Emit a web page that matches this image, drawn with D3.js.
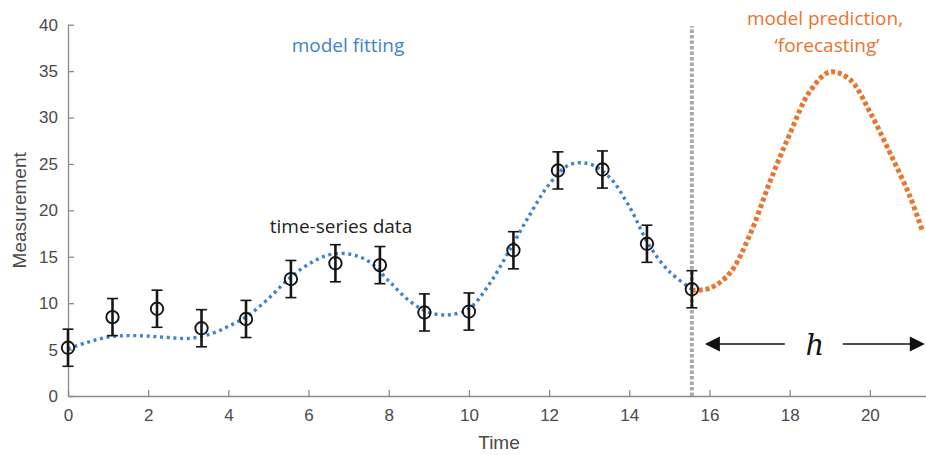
<!DOCTYPE html>
<html>
<head>
<meta charset="utf-8">
<script src="https://cdn.jsdelivr.net/npm/d3@7"></script>
<style>
  html, body { margin: 0; padding: 0; background: #fff; }
  svg { display: block; }
</style>
</head>
<body>
<svg id="chart" width="926" height="455"></svg>
<script>
// ---- data ----
const dataTime  = [0, 1.11, 2.22, 3.33, 4.44, 5.56, 6.67, 7.78, 8.89, 10.0, 11.11, 12.22, 13.33, 14.44, 15.56];
const dataValue = [5.2, 8.5, 9.4, 7.3, 8.3, 12.6, 14.3, 14.1, 9.0, 9.1, 15.7, 24.3, 24.4, 16.4, 11.5];
const dataError = [2, 2, 2, 2, 2, 2, 2, 2, 2, 2, 2, 2, 2, 2, 2];

const fitTime  = [0, 0.5, 1.0, 1.5, 2.0, 2.5, 3.0, 3.5, 4.0, 4.5, 5.0, 5.5, 6.0, 6.5, 7.0, 7.5, 8.0, 8.5, 9.0, 9.5, 10.0, 10.5, 11.0, 11.5, 12.0, 12.5, 13.0, 13.5, 14.0, 14.5, 15.0, 15.56];
const fitValue = [5.1, 5.8, 6.35, 6.5, 6.45, 6.3, 6.2, 6.6, 7.5, 8.7, 10.5, 12.6, 14.2, 15.2, 15.3, 14.5, 12.4, 10.3, 9.0, 8.75, 9.4, 12.0, 15.6, 19.4, 22.8, 24.9, 25.0, 23.6, 20.4, 16.2, 13.4, 11.5];

const forecastTime  = [15.56, 16.0, 16.5, 17.0, 17.5, 18.0, 18.5, 19.0, 19.5, 20.0, 20.5, 21.0, 21.3];
const forecastValue = [11.4, 11.6, 13.2, 17.3, 23.0, 28.2, 32.8, 34.9, 34.1, 30.6, 26.2, 21.5, 17.9];

const xTicks = [0, 2, 4, 6, 8, 10, 12, 14, 16, 18, 20];
const yTicks = [0, 5, 10, 15, 20, 25, 30, 35, 40];
const forecastStart = 15.56;
const horizonEnd = 21.37;
const arrowLevel = 5.6;

// ---- layout ----
const svg = d3.select("#chart");
const W = 926, H = 455;
const m = { left: 68, top: 24.7, right: 0, bottom: 59 };
const x = d3.scaleLinear().domain([0, 21.4]).range([m.left, W - m.right]);
const y = d3.scaleLinear().domain([0, 40]).range([H - m.bottom, m.top]);

const axisColor = "#8a8a8a";
const tickTextColor = "#4a4a4a";

// axes
const gx = svg.append("g").attr("transform", `translate(0,${y(0)})`)
  .call(d3.axisBottom(x).tickValues(xTicks).tickSizeInner(-6).tickSizeOuter(0).tickPadding(13).tickFormat(d3.format("d")));
const gy = svg.append("g").attr("transform", `translate(${x(0)},0)`)
  .call(d3.axisLeft(y).tickValues(yTicks).tickSizeInner(-6).tickSizeOuter(0).tickPadding(10).tickFormat(d3.format("d")));
[gx, gy].forEach(g => {
  g.select(".domain").attr("stroke", axisColor).attr("stroke-width", 1.3);
  g.selectAll(".tick line").attr("stroke", axisColor).attr("stroke-width", 1.3);
  g.selectAll(".tick text").attr("fill", tickTextColor)
    .style("font-family", "'Liberation Sans', Arial, sans-serif").style("font-size", "17px");
});

// axis labels
svg.append("text").attr("x", 499).attr("y", 449).attr("text-anchor", "middle")
  .attr("fill", tickTextColor).style("font-family", "'Liberation Sans', Arial, sans-serif").style("font-size", "19px")
  .text("Time");
svg.append("text").attr("transform", `translate(26,${(y(0) + y(40)) / 2}) rotate(-90)`).attr("text-anchor", "middle")
  .attr("fill", tickTextColor).style("font-family", "'Liberation Sans', Arial, sans-serif").style("font-size", "19px")
  .text("Measurement");

// vertical separator
svg.append("line").attr("x1", x(forecastStart)).attr("x2", x(forecastStart))
  .attr("y1", y(0)).attr("y2", 26)
  .attr("stroke", "#a9a9a9").attr("stroke-width", 4).attr("stroke-dasharray", "3.5 2");

// fit curve
const line = d3.line().x(d => x(d[0])).y(d => y(d[1])).curve(d3.curveCatmullRom.alpha(0.5));
svg.append("path").datum(fitTime.map((t, i) => [t, fitValue[i]]))
  .attr("d", line).attr("fill", "none").attr("stroke", "#3b82cf")
  .attr("stroke-width", 3.4).attr("stroke-dasharray", "3 3.7");

// forecast curve
svg.append("path").datum(forecastTime.map((t, i) => [t, forecastValue[i]]))
  .attr("d", line).attr("fill", "none").attr("stroke", "#ec7329")
  .attr("stroke-width", 5).attr("stroke-dasharray", "4 2.8");

// data with error bars
const pts = svg.append("g");
dataTime.forEach((t, i) => {
  const cx = x(t), v = dataValue[i], e = dataError[i];
  const g = pts.append("g").attr("stroke", "#161616").attr("fill", "none");
  g.append("line").attr("x1", cx).attr("x2", cx).attr("y1", y(v - e)).attr("y2", y(v + e)).attr("stroke-width", 2.6);
  g.append("line").attr("x1", cx - 5.5).attr("x2", cx + 5.5).attr("y1", y(v - e)).attr("y2", y(v - e)).attr("stroke-width", 1.6);
  g.append("line").attr("x1", cx - 5.5).attr("x2", cx + 5.5).attr("y1", y(v + e)).attr("y2", y(v + e)).attr("stroke-width", 1.6);
  g.append("circle").attr("cx", cx).attr("cy", y(v)).attr("r", 6.2).attr("stroke-width", 1.9);
});

// annotations
const annFont = "'Open Sans', 'Noto Sans', sans-serif";
svg.append("text").attr("x", 348).attr("y", 52).attr("text-anchor", "middle")
  .attr("fill", "#3b82cf").style("font-family", annFont).style("font-size", "19px").text("model fitting");
svg.append("text").attr("x", 341).attr("y", 233).attr("text-anchor", "middle")
  .attr("fill", "#222").style("font-family", annFont).style("font-size", "19px").text("time-series data");
svg.append("text").attr("x", 825).attr("y", 25).attr("text-anchor", "middle")
  .attr("fill", "#ec7329").style("font-family", annFont).style("font-size", "19px").text("model prediction,");
svg.append("text").attr("x", 827).attr("y", 52).attr("text-anchor", "middle")
  .attr("fill", "#ec7329").style("font-family", annFont).style("font-size", "19px").text("\u2018forecasting\u2019");

// horizon arrow
const ay = y(arrowLevel);
const xl = x(forecastStart) + 13, xr = x(horizonEnd);
const hx = (xl + xr) / 2;
const ag = svg.append("g");
ag.append("line").attr("x1", xl + 12).attr("x2", hx - 30).attr("y1", ay).attr("y2", ay).attr("stroke", "#111").attr("stroke-width", 1.5);
ag.append("line").attr("x1", hx + 28).attr("x2", xr - 12).attr("y1", ay).attr("y2", ay).attr("stroke", "#111").attr("stroke-width", 1.5);
ag.append("path").attr("d", `M${xl},${ay} L${xl + 15},${ay - 7.5} L${xl + 15},${ay + 7.5} Z`).attr("fill", "#111");
ag.append("path").attr("d", `M${xr},${ay} L${xr - 15},${ay - 7.5} L${xr - 15},${ay + 7.5} Z`).attr("fill", "#111");
ag.append("text").attr("x", hx).attr("y", ay + 11).attr("text-anchor", "middle")
  .attr("fill", "#111").style("font-family", "'DejaVu Serif', serif").style("font-style", "italic").style("font-size", "29px").text("h");
</script>
</body>
</html>
